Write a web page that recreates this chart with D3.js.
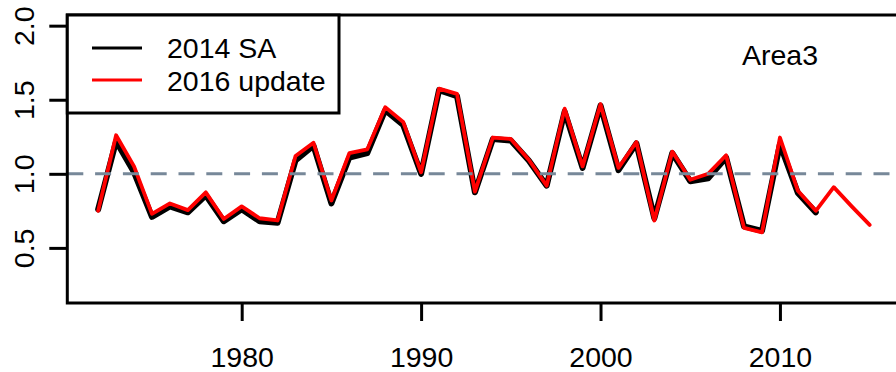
<!DOCTYPE html>
<html>
<head>
<meta charset="utf-8">
<script src="https://cdn.jsdelivr.net/npm/d3@7/dist/d3.min.js"></script>
<style>
  html, body { margin: 0; padding: 0; background: #fff; }
  svg { display: block; }
  text { font-family: "Liberation Sans", Arial, Helvetica, sans-serif; fill: #000; }
</style>
</head>
<body>
<svg id="chart" width="896" height="372"></svg>
<script>
// ---- data ----
const years2014 = [1972,1973,1974,1975,1976,1977,1978,1979,1980,1981,1982,1983,1984,1985,1986,1987,1988,1989,1990,
  1991,1992,1993,1994,1995,1996,1997,1998,1999,2000,2001,2002,2003,2004,2005,2006,2007,2008,2009,2010,2011,2012];
const values2014 = [0.76,1.22,1.01,0.71,0.78,0.74,0.855,0.68,0.76,0.68,0.67,1.09,1.19,0.80,1.11,1.14,1.43,1.33,1.00,
  1.565,1.525,0.875,1.235,1.225,1.09,0.92,1.42,1.04,1.46,1.025,1.205,0.70,1.14,0.95,0.97,1.11,0.645,0.615,1.20,0.87,0.74];
const years2016 = [1972,1973,1974,1975,1976,1977,1978,1979,1980,1981,1982,1983,1984,1985,1986,1987,1988,1989,1990,
  1991,1992,1993,1994,1995,1996,1997,1998,1999,2000,2001,2002,2003,2004,2005,2006,2007,2008,2009,2010,2011,2012,2013,2014,2015];
const values2016 = [0.75,1.26,1.05,0.73,0.80,0.755,0.875,0.695,0.78,0.70,0.685,1.12,1.21,0.82,1.14,1.165,1.45,1.35,1.01,
  1.575,1.54,0.88,1.245,1.235,1.095,0.92,1.44,1.05,1.47,1.04,1.215,0.685,1.15,0.96,1.00,1.125,0.635,0.605,1.245,0.885,0.75,0.91,0.78,0.655];
const xTicks = [1980, 1990, 2000, 2010];
const yTicks = [0.5, 1.0, 1.5, 2.0];
const yTickLabels = ["0.5", "1.0", "1.5", "2.0"];
const legendLabels = ["2014 SA", "2016 update"];
const legendColors = ["#000000", "#ff0000"];
const panelLabel = "Area3";
const refValue = 1.0;

(function () {
// ---- layout ----
const svg = d3.select("#chart");
const pL = 67.3, pR = 900.5, pT = 15, pB = 303;
const x = d3.scaleLinear().domain([1970.28, 2016.72]).range([pL, pR]);
const y = d3.scaleLinear().domain([0.128, 2.072]).range([pB, pT]);
const fontSize = 28.5;

const line = d3.line().x(d => x(d[0])).y(d => y(d[1]));

const plot = svg.append("g");
plot.append("path")
  .datum(d3.zip(years2014, values2014))
  .attr("d", line).attr("fill", "none").attr("stroke", "#000")
  .attr("stroke-width", 6).attr("stroke-linejoin", "round").attr("stroke-linecap", "round");
plot.append("path")
  .datum(d3.zip(years2016, values2016))
  .attr("d", line).attr("fill", "none").attr("stroke", "#ff0000")
  .attr("stroke-width", 3.8).attr("stroke-linejoin", "round").attr("stroke-linecap", "round");

// reference dashed line
svg.append("line")
  .attr("x1", pL).attr("x2", pR)
  .attr("y1", y(refValue)).attr("y2", y(refValue))
  .attr("stroke", "#778899").attr("stroke-width", 3)
  .attr("stroke-dasharray", "16,11.8");

// axes
const xAxis = svg.append("g")
  .attr("transform", `translate(0,${pB})`)
  .call(d3.axisBottom(x).tickValues(xTicks).tickFormat(d3.format("d")).tickSize(18));
xAxis.select(".domain").remove();
xAxis.selectAll(".tick line").attr("stroke", "#000").attr("stroke-width", 3);
xAxis.selectAll(".tick text")
  .attr("y", 63.5).attr("dy", 0)
  .style("font-size", fontSize + "px")
  .style("font-family", '"Liberation Sans", Arial, sans-serif')
  .attr("fill", "#000");

const yAxis = svg.append("g")
  .attr("transform", `translate(${pL},0)`)
  .call(d3.axisLeft(y).tickValues(yTicks).tickFormat((d, i) => yTickLabels[i]).tickSize(18));
yAxis.select(".domain").remove();
yAxis.selectAll(".tick line").attr("stroke", "#000").attr("stroke-width", 3);
yAxis.selectAll(".tick text")
  .attr("x", 0).attr("y", 0).attr("dy", 0)
  .attr("text-anchor", "middle")
  .attr("transform", `translate(${33.5 - pL},0) rotate(-90)`)
  .style("font-size", fontSize + "px")
  .style("font-family", '"Liberation Sans", Arial, sans-serif')
  .attr("fill", "#000");

// frame
svg.append("rect")
  .attr("x", pL).attr("y", pT)
  .attr("width", pR - pL).attr("height", pB - pT)
  .attr("fill", "none").attr("stroke", "#000").attr("stroke-width", 3);

// panel label
svg.append("text")
  .attr("x", 742).attr("y", 65)
  .style("font-size", fontSize + "px")
  .text(panelLabel);

// legend
const lg = svg.append("g");
lg.append("rect")
  .attr("x", pL).attr("y", pT)
  .attr("width", 339 - pL).attr("height", 113 - pT)
  .attr("fill", "#fff").attr("stroke", "#000").attr("stroke-width", 3);
const legendRowY = [48, 80];
const legendBase = [58, 90.5];
legendLabels.forEach((lab, i) => {
  lg.append("line")
    .attr("x1", 92).attr("x2", 142)
    .attr("y1", legendRowY[i]).attr("y2", legendRowY[i])
    .attr("stroke", legendColors[i]).attr("stroke-width", 3);
  lg.append("text")
    .attr("x", 167).attr("y", legendBase[i])
    .style("font-size", fontSize + "px")
    .text(lab);
});
})();
</script>
</body>
</html>
